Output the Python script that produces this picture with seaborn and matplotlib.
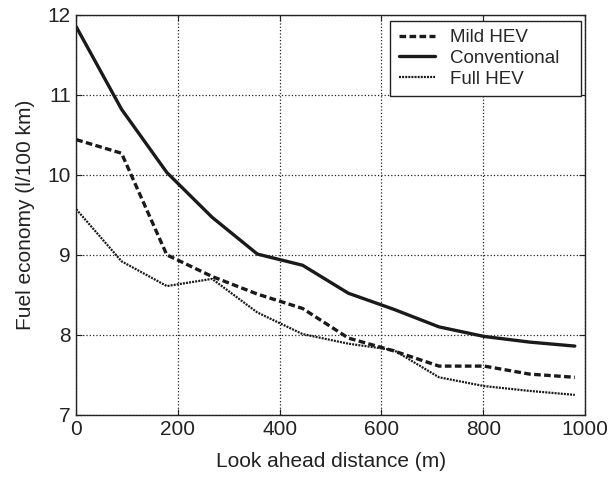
import matplotlib
matplotlib.use("Agg")
import matplotlib.pyplot as plt
import seaborn as sns
import pandas as pd

# Look-ahead distances (m)
distance = [0, 89, 178, 267, 356, 445, 535, 624, 713, 802, 891, 980]

# Fuel economy (l/100 km) per powertrain
mild_hev = [10.44, 10.27, 9.00, 8.73, 8.51, 8.33, 7.96, 7.80, 7.61, 7.61, 7.51, 7.47]
conventional = [11.85, 10.82, 10.03, 9.47, 9.01, 8.87, 8.52, 8.32, 8.10, 7.98, 7.91, 7.86]
full_hev = [9.57, 8.92, 8.61, 8.70, 8.28, 8.01, 7.89, 7.81, 7.47, 7.36, 7.30, 7.25]

series_names = ["Mild HEV", "Conventional", "Full HEV"]
x_ticks = [0, 200, 400, 600, 800, 1000]
y_ticks = [7, 8, 9, 10, 11, 12]

frames = []
for name, vals in zip(series_names, [mild_hev, conventional, full_hev]):
    frames.append(pd.DataFrame({"distance": distance, "economy": vals, "series": name}))
df = pd.concat(frames, ignore_index=True)

sns.set_style("white")
plt.rcParams["font.family"] = ["Liberation Sans", "DejaVu Sans"]

fig = plt.figure(figsize=(6.10, 4.78), dpi=100)
ax = fig.add_axes([0.125, 0.132, 0.834, 0.837])

dash_map = {"Mild HEV": (2.0, 1.0), "Conventional": "", "Full HEV": (0.9, 0.5)}
sns.lineplot(data=df, x="distance", y="economy", style="series",
             style_order=series_names, dashes=dash_map, color="#1a1a1a",
             ax=ax, legend=True)

widths = {"Mild HEV": 2.4, "Conventional": 2.4, "Full HEV": 1.6}
for line, name in zip(ax.get_lines(), series_names):
    line.set_linewidth(widths[name])

ax.set_xlim(0, 1000)
ax.set_ylim(7, 12)
ax.set_xticks(x_ticks)
ax.set_yticks(y_ticks)
ax.grid(True, linestyle=":", color="#222222", linewidth=0.9)
ax.tick_params(direction="in", length=4, width=0.8, labelsize=15,
               colors="#222222", top=True, right=True, bottom=True, left=True,
               labeltop=False, labelright=False, pad=4)
for s in ax.spines.values():
    s.set_color("#222222")
    s.set_linewidth(1.0)

ax.set_xlabel("Look ahead distance (m)", fontsize=15, color="#222222", labelpad=9)
ax.set_ylabel("Fuel economy (l/100 km)", fontsize=15, color="#222222", labelpad=9)

handles, labels = ax.get_legend_handles_labels()
for h, name in zip(handles, labels):
    if name in widths:
        h.set_linewidth(widths[name])
leg = ax.legend(handles, labels, loc="upper right", fontsize=13.5, frameon=True,
                fancybox=False, edgecolor="#222222", framealpha=1,
                borderpad=0.45, handlelength=1.95, handletextpad=0.8,
                labelspacing=0.2, borderaxespad=0, mode="expand",
                bbox_to_anchor=(0.617, 0.5, 0.375, 0.4855))
leg.get_frame().set_linewidth(1.0)

fig.savefig("out.png", dpi=100)
